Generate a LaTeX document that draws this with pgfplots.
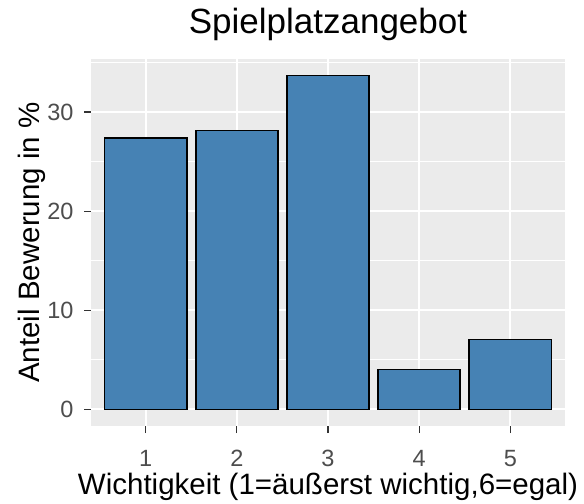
\documentclass[border=0pt]{standalone}
\usepackage{pgfplots}
\pgfplotsset{compat=1.18}
\usepackage{fontspec}
\setmainfont{Liberation Sans}
\usetikzlibrary{calc}
\definecolor{panelgray}{HTML}{EBEBEB}
\definecolor{steelblue}{HTML}{4682B4}
\definecolor{tickgray}{HTML}{333333}
\definecolor{labelgray}{HTML}{4D4D4D}
\begin{document}
\begin{tikzpicture}
\begin{axis}[
  name=ax,
  width=474pt, height=367pt, scale only axis,
  xmin=0.4, xmax=5.6, ymin=-1.68, ymax=35.35,
  axis background/.style={fill=panelgray},
  axis line style={draw=none},
  xtick={1,2,3,4,5}, ytick={0,10,20,30},
  minor ytick={5,15,25,35},
  xtick pos=bottom, ytick pos=left,
  tick align=outside,
  major tick length=7pt, minor tick length=0pt,
  tick style={color=tickgray, line width=1.1pt},
  xmajorgrids, ymajorgrids, yminorgrids,
  major grid style={white, line width=2pt},
  minor grid style={white, line width=1pt},
  /pgf/number format/assume math mode=true,
  ticklabel style={font=\fontsize{23.5}{26}\selectfont, text=labelgray},
  xticklabel style={yshift=-14pt},
  yticklabel style={xshift=-7pt},
  title={Spielplatzangebot},
  title style={font=\fontsize{35}{40}\selectfont, at={(axis description cs:0.5,1.0518)}, anchor=base},
  xlabel={Wichtigkeit (1=äußerst wichtig,6=egal)},
  xlabel style={font=\fontsize{29.5}{33}\selectfont, at={(axis description cs:0.5,-0.1853)}, anchor=base},
  ylabel={Anteil Bewerung in \%},
  ylabel style={font=\fontsize{29.5}{33}\selectfont, at={(axis description cs:-0.1097,0.5)}, anchor=base, rotate=0},
  ybar, bar width=0.9, bar shift=0pt,
]
\addplot[fill=steelblue, draw=black, line width=1.6pt] coordinates {
  (1,27.35) (2,28.15) (3,33.67) (4,4.04) (5,7.04)
};
\end{axis}
\pgfresetboundingbox
\path[use as bounding box] ($(ax.south west)+(-91pt,-77pt)$) rectangle ($(ax.north east)+(19pt,59pt)$);
\end{tikzpicture}
\end{document}
